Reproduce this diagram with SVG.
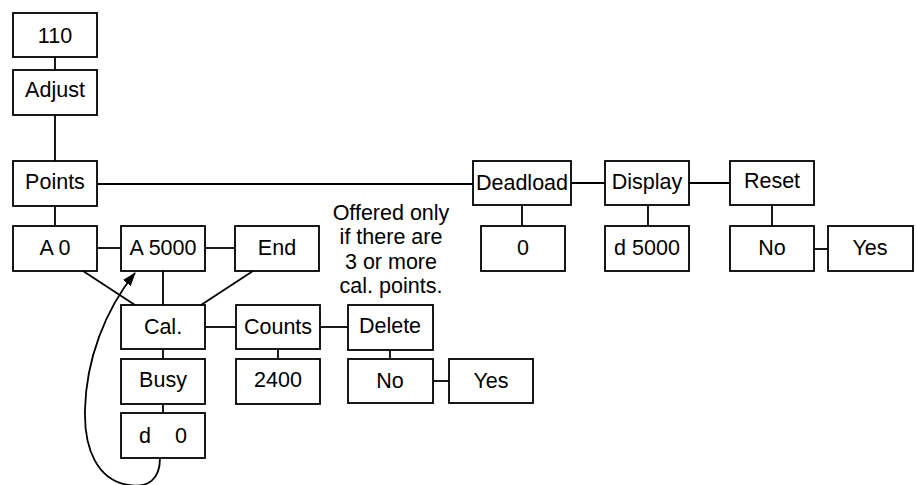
<svg xmlns="http://www.w3.org/2000/svg" width="916" height="485" viewBox="0 0 916 485">
<style>
.b{fill:#fff;stroke:#000;stroke-width:1.8}
.t{font-family:"Liberation Sans",Arial,sans-serif;font-size:21.5px;fill:#000;text-anchor:middle}
.c line,.c path{stroke:#000;stroke-width:1.8;fill:none}
</style>
<defs>
<marker id="ah" markerWidth="14" markerHeight="10" refX="13" refY="5" orient="auto" markerUnits="userSpaceOnUse">
<path d="M0,0 L14,5 L0,10 Z" fill="#000"/>
</marker>
</defs>
<rect width="916" height="485" fill="#fff"/>
<g class="c" id="connectors">
<line x1="55" y1="57" x2="55" y2="70"/>
<line x1="55" y1="115" x2="55" y2="161"/>
<line x1="55" y1="206" x2="55" y2="226"/>
<line x1="97" y1="184" x2="473" y2="184"/>
<line x1="97" y1="248" x2="121" y2="248"/>
<line x1="205" y1="248" x2="235" y2="248"/>
<line x1="83" y1="271" x2="135" y2="305"/>
<line x1="163" y1="271" x2="163" y2="305"/>
<line x1="253" y1="271" x2="201" y2="305"/>
<line x1="205" y1="327" x2="236" y2="327"/>
<line x1="320" y1="327" x2="348" y2="327"/>
<line x1="163" y1="349" x2="163" y2="359"/>
<line x1="163" y1="404" x2="163" y2="413"/>
<line x1="278" y1="349" x2="278" y2="359"/>
<line x1="390" y1="350" x2="390" y2="359"/>
<line x1="433" y1="381" x2="449" y2="381"/>
<line x1="522" y1="205" x2="522" y2="226"/>
<line x1="571" y1="183" x2="605" y2="183"/>
<line x1="648" y1="205" x2="648" y2="226"/>
<line x1="689" y1="183" x2="730" y2="183"/>
<line x1="772" y1="205" x2="772" y2="226"/>
<line x1="814" y1="249" x2="828" y2="249"/>
<path d="M160,458 C160,480 148,488 128,485 C98,480 84,450 85,410 C86,360 105,310 135,273" marker-end="url(#ah)"/>
</g>
<g id="n110"><rect class="b" x="13" y="13" width="84" height="44"/><text class="t" x="55" y="43">110</text></g>
<g id="adjust"><rect class="b" x="13" y="70" width="84" height="45"/><text class="t" x="55" y="97">Adjust</text></g>
<g id="points"><rect class="b" x="13" y="161" width="84" height="45"/><text class="t" x="55" y="189">Points</text></g>
<g id="a0"><rect class="b" x="13" y="226" width="84" height="45"/><text class="t" x="55" y="255">A 0</text></g>
<g id="a5000"><rect class="b" x="121" y="226" width="84" height="45"/><text class="t" x="163" y="255">A 5000</text></g>
<g id="end"><rect class="b" x="235" y="226" width="84" height="45"/><text class="t" x="277" y="255">End</text></g>
<g id="cal"><rect class="b" x="121" y="305" width="84" height="44"/><text class="t" x="163" y="334">Cal.</text></g>
<g id="counts"><rect class="b" x="236" y="305" width="84" height="44"/><text class="t" x="278" y="334">Counts</text></g>
<g id="delete"><rect class="b" x="348" y="305" width="85" height="45"/><text class="t" x="390" y="333">Delete</text></g>
<g id="busy"><rect class="b" x="121" y="359" width="84" height="45"/><text class="t" x="163" y="387">Busy</text></g>
<g id="n2400"><rect class="b" x="236" y="359" width="84" height="45"/><text class="t" x="278" y="387">2400</text></g>
<g id="delno"><rect class="b" x="348" y="359" width="85" height="44"/><text class="t" x="390" y="388">No</text></g>
<g id="delyes"><rect class="b" x="449" y="359" width="84" height="44"/><text class="t" x="491" y="388">Yes</text></g>
<g id="d0"><rect class="b" x="121" y="413" width="84" height="45"/><text class="t" x="163" y="443" style="white-space:pre">d    0</text></g>
<g id="deadload"><rect class="b" x="473" y="161" width="98" height="44"/><text class="t" x="522" y="190">Deadload</text></g>
<g id="dl0"><rect class="b" x="481" y="226" width="84" height="45"/><text class="t" x="523" y="255">0</text></g>
<g id="display"><rect class="b" x="605" y="161" width="84" height="44"/><text class="t" x="647" y="189">Display</text></g>
<g id="d5000"><rect class="b" x="605" y="226" width="84" height="45"/><text class="t" x="647" y="255">d 5000</text></g>
<g id="reset"><rect class="b" x="730" y="161" width="84" height="44"/><text class="t" x="772" y="188">Reset</text></g>
<g id="resno"><rect class="b" x="730" y="226" width="84" height="45"/><text class="t" x="772" y="255">No</text></g>
<g id="resyes"><rect class="b" x="828" y="226" width="85" height="45"/><text class="t" x="870" y="255">Yes</text></g>
<g id="note"><text class="t"><tspan x="391" y="220">Offered only</tspan><tspan x="391" y="244">if there are</tspan><tspan x="391" y="269">3 or more</tspan><tspan x="391" y="293">cal. points.</tspan></text></g>
</svg>
